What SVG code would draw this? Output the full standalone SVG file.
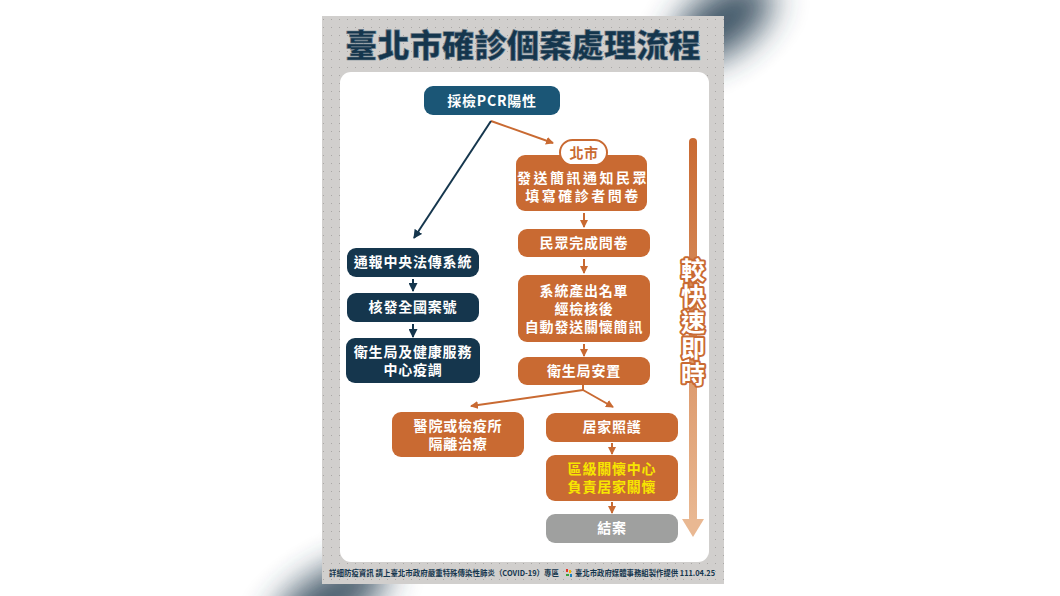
<svg xmlns="http://www.w3.org/2000/svg" width="1060" height="596" viewBox="0 0 1060 596">
<defs>
<style>
.nt{font-family:"Noto Sans CJK TC","Noto Sans CJK SC",sans-serif;font-weight:700;font-size:14px;fill:#fff;text-anchor:middle;letter-spacing:0.8px}
.yl{fill:#f7e600}
.navy{fill:#15364d}
.blue{fill:#1b5676}
.org{fill:#c96a32}
.gry{fill:#9fa09f}
.co{stroke:#c96a32;stroke-width:2;fill:none}
.cn{stroke:#15364d;stroke-width:2;fill:none}
.ft{font-family:"Noto Sans CJK TC",sans-serif;font-weight:700;font-size:8px;fill:#15364d}
</style>
<pattern id="dots" width="8" height="8" patternUnits="userSpaceOnUse">
<rect x="3" y="3" width="1" height="1" fill="#a9a7a5"/>
</pattern>
<linearGradient id="ag" x1="0" y1="0" x2="0" y2="1">
<stop offset="0" stop-color="#c96a32"/>
<stop offset="1" stop-color="#e9b892"/>
</linearGradient>
<filter id="blur" x="-80%" y="-80%" width="260%" height="260%"><feGaussianBlur stdDeviation="17"/></filter>
<marker id="mo" markerWidth="8" markerHeight="8" refX="7" refY="4" orient="auto" markerUnits="userSpaceOnUse"><path d="M0,0 L8,4 L0,8 z" fill="#c96a32"/></marker>
<marker id="mn" markerWidth="9" markerHeight="9" refX="8" refY="4.5" orient="auto" markerUnits="userSpaceOnUse"><path d="M0,0 L9,4.5 L0,9 z" fill="#15364d"/></marker>
</defs>
<rect width="1060" height="596" fill="#fff"/>
<!-- shadows -->
<ellipse cx="722" cy="22" rx="58" ry="30" transform="rotate(-35 722 22)" fill="#2a4354" opacity="0.9" filter="url(#blur)"/>
<ellipse cx="330" cy="598" rx="65" ry="26" transform="rotate(-30 330 598)" fill="#2a4354" opacity="0.9" filter="url(#blur)"/>
<!-- poster -->
<rect x="322" y="16" width="402" height="568" fill="#d1cfcd"/>
<rect x="322" y="16" width="402" height="568" fill="url(#dots)"/>
<rect x="340" y="72" width="369" height="490" rx="11" fill="#fff"/>
<text x="345" y="57" font-family="Noto Sans CJK TC,sans-serif" font-weight="900" font-size="32" fill="#15364d" stroke="#6d7f8c" stroke-width="0.6" textLength="356" lengthAdjust="spacingAndGlyphs">臺北市確診個案處理流程</text>
<!-- speed arrow -->
<g id="speed">
<rect x="689" y="138" width="8" height="384" rx="4" fill="url(#ag)"/>
<polygon points="682,519 704,519 693,537" fill="#e9b892"/>
<text x="693" y="258" writing-mode="vertical-rl" font-family="Noto Sans CJK TC,sans-serif" font-weight="700" font-size="24" letter-spacing="2" fill="#fff" stroke="#c96a32" stroke-width="4" paint-order="stroke" stroke-linejoin="round">較快速即時</text>
</g>
<!-- connectors -->
<g id="connectors">
<line class="co" x1="491" y1="121" x2="553" y2="143" marker-end="url(#mo)"/>
<line class="cn" x1="491" y1="121" x2="414" y2="238" marker-end="url(#mn)"/>
<line class="cn" x1="413" y1="279" x2="413" y2="291" marker-end="url(#mn)"/>
<line class="cn" x1="413" y1="324" x2="413" y2="337" marker-end="url(#mn)"/>
<line class="co" x1="584" y1="213" x2="584" y2="227" marker-end="url(#mo)"/>
<line class="co" x1="584" y1="259" x2="584" y2="273" marker-end="url(#mo)"/>
<line class="co" x1="584" y1="344" x2="584" y2="356" marker-end="url(#mo)"/>
<line class="co" x1="583" y1="385" x2="583" y2="390"/>
<line class="co" x1="583" y1="390" x2="471" y2="406" marker-end="url(#mo)"/>
<line class="co" x1="583" y1="390" x2="613" y2="407" marker-end="url(#mo)"/>
<line class="co" x1="612" y1="443" x2="612" y2="454" marker-end="url(#mo)"/>
<line class="co" x1="612" y1="502" x2="612" y2="513" marker-end="url(#mo)"/>
</g>
<!-- nodes -->
<g id="n-pcr"><rect class="blue" x="424" y="86" width="136" height="29" rx="9"/><text class="nt" x="492" y="106" font-size="15">採檢PCR陽性</text></g>
<g id="n-sms"><rect class="org" x="516" y="155" width="131" height="56" rx="9"/><text class="nt" x="583" y="183" style="letter-spacing:2.5px">發送簡訊通知民眾</text><text class="nt" x="583" y="201" style="letter-spacing:2.5px">填寫確診者問卷</text></g>
<g id="n-taipei"><rect x="560" y="140" width="47" height="25" rx="12.5" fill="#fff" stroke="#c96a32" stroke-width="2"/><text class="nt" x="584" y="158" style="fill:#c96a32;letter-spacing:0.5px">北市</text></g>
<g id="n-done"><rect class="org" x="518" y="229" width="132" height="28" rx="9"/><text class="nt" x="584" y="248">民眾完成問卷</text></g>
<g id="n-list"><rect class="org" x="518" y="275" width="132" height="67" rx="9"/><text class="nt" x="584" y="296">系統產出名單</text><text class="nt" x="584" y="314">經檢核後</text><text class="nt" x="584" y="332">自動發送關懷簡訊</text></g>
<g id="n-place"><rect class="org" x="518" y="357" width="132" height="28" rx="9"/><text class="nt" x="584" y="376">衛生局安置</text></g>
<g id="n-report"><rect class="navy" x="347" y="248" width="132" height="29" rx="9"/><text class="nt" x="413" y="267">通報中央法傳系統</text></g>
<g id="n-caseno"><rect class="navy" x="347" y="293" width="132" height="29" rx="9"/><text class="nt" x="413" y="312">核發全國案號</text></g>
<g id="n-epi"><rect class="navy" x="346" y="338" width="134" height="45" rx="9"/><text class="nt" x="413" y="357">衛生局及健康服務</text><text class="nt" x="413" y="375">中心疫調</text></g>
<g id="n-hosp"><rect class="org" x="392" y="412" width="132" height="45" rx="9"/><text class="nt" x="458" y="431">醫院或檢疫所</text><text class="nt" x="458" y="449">隔離治療</text></g>
<g id="n-home"><rect class="org" x="546" y="413" width="132" height="29" rx="9"/><text class="nt" x="612" y="432">居家照護</text></g>
<g id="n-care"><rect class="org" x="546" y="455" width="132" height="46" rx="9"/><text class="nt yl" x="612" y="474">區級關懷中心</text><text class="nt yl" x="612" y="492">負責居家關懷</text></g>
<g id="n-close"><rect class="gry" x="546" y="514" width="132" height="29" rx="9"/><text class="nt" x="612" y="533">結案</text></g>
<!-- footer -->
<text class="ft" x="329" y="576" textLength="230" lengthAdjust="spacingAndGlyphs">詳細防疫資訊 請上臺北市政府嚴重特殊傳染性肺炎（COVID-19）專區</text>
<g>
<rect x="566" y="569" width="2" height="3" fill="#e5332a"/>
<rect x="569" y="570" width="2" height="3" fill="#f2b600"/>
<rect x="566" y="574" width="3" height="2" fill="#3aa13a"/>
<rect x="570" y="574" width="2" height="3" fill="#1d7fc1"/>
</g>
<text class="ft" x="575" y="576" textLength="140" lengthAdjust="spacingAndGlyphs">臺北市政府媒體事務組製作提供 111.04.25</text>
</svg>
